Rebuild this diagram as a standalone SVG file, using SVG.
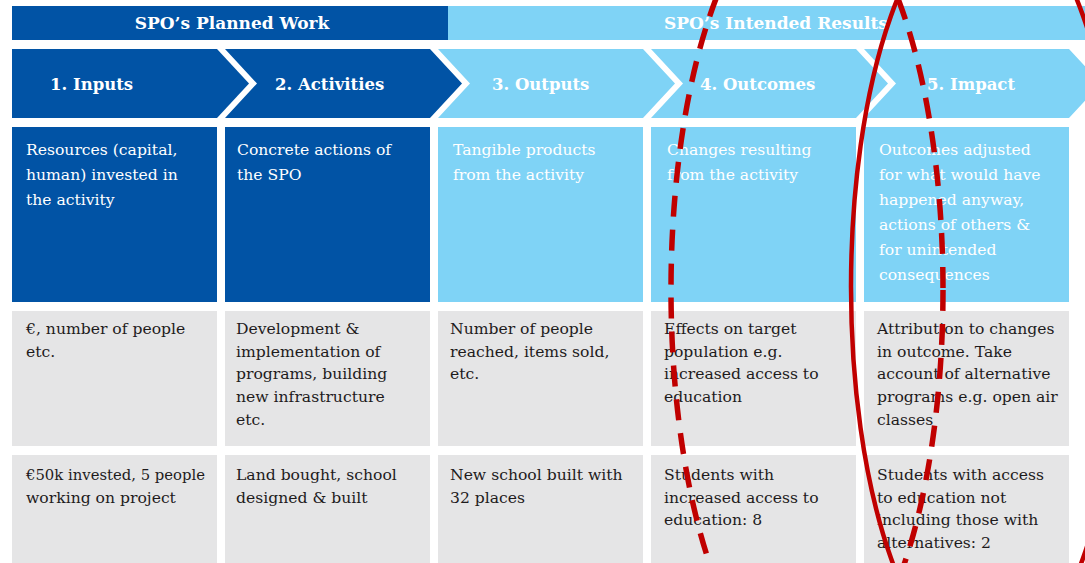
<svg xmlns="http://www.w3.org/2000/svg" width="1085" height="563" viewBox="0 0 1085 563">
<style>
.dark{fill:#0153a5}
.light{fill:#7fd3f6}
.grey{fill:#e5e5e6}
.hd{font-family:"DejaVu Serif",serif;font-weight:bold;font-size:17px;fill:#fff;text-anchor:middle}
.ch{font-family:"DejaVu Serif",serif;font-weight:bold;font-size:16.5px;fill:#fff}
.bt{font-family:"DejaVu Serif",serif;font-size:15.6px;fill:#fff}
.gt{font-family:"DejaVu Serif",serif;font-size:15.6px;fill:#1e1b1c}
.ring{fill:none;stroke:#c00000}
</style>
<rect width="1085" height="563" fill="#fff"/>
<g id="header-planned">
<rect class="dark" x="12" y="6" width="436" height="34"/>
<text class="hd" x="232" y="29">SPO’s Planned Work</text>
</g>
<g id="header-intended">
<rect class="light" x="448" y="6" width="640" height="34"/>
<text class="hd" x="776" y="29">SPO’s Intended Results</text>
</g>
<g id="col-inputs">
<path class="dark" d="M12,49H217L249,83.5L217,118H12Z"/>
<text class="ch" x="50" y="90">1. Inputs</text>
<rect class="dark" x="12" y="127" width="205" height="175"/>
<text class="bt" x="26"><tspan x="26" y="155">Resources (capital,</tspan><tspan x="26" y="180">human) invested in</tspan><tspan x="26" y="205">the activity</tspan></text>
<rect class="grey" x="12" y="311" width="205" height="135"/>
<text class="gt"><tspan x="26" y="334">€, number of people</tspan><tspan x="26" y="357">etc.</tspan></text>
<rect class="grey" x="12" y="455" width="205" height="115"/>
<text class="gt" x="26" y="480" textLength="179" lengthAdjust="spacingAndGlyphs">€50k invested, 5 people</text>
<text class="gt" x="26" y="502.5">working on project</text>
</g>
<g id="col-activities">
<path class="dark" d="M225,49H430L462,83.5L430,118H225L257,83.5Z"/>
<text class="ch" x="275" y="90">2. Activities</text>
<rect class="dark" x="225" y="127" width="205" height="175"/>
<text class="bt"><tspan x="237" y="155">Concrete actions of</tspan><tspan x="237" y="180">the SPO</tspan></text>
<rect class="grey" x="225" y="311" width="205" height="135"/>
<text class="gt"><tspan x="236" y="334">Development &amp;</tspan><tspan x="236" y="356.7">implementation of</tspan><tspan x="236" y="379.4">programs, building</tspan><tspan x="236" y="402">new infrastructure</tspan><tspan x="236" y="424.7">etc.</tspan></text>
<rect class="grey" x="225" y="455" width="205" height="115"/>
<text class="gt"><tspan x="236" y="480">Land bought, school</tspan><tspan x="236" y="502.5">designed &amp; built</tspan></text>
</g>
<g id="col-outputs">
<path class="light" d="M438,49H643L675,83.5L643,118H438L470,83.5Z"/>
<text class="ch" x="492" y="90">3. Outputs</text>
<rect class="light" x="438" y="127" width="205" height="175"/>
<text class="bt"><tspan x="453" y="155">Tangible products</tspan><tspan x="453" y="180">from the activity</tspan></text>
<rect class="grey" x="438" y="311" width="205" height="135"/>
<text class="gt"><tspan x="450" y="334">Number of people</tspan><tspan x="450" y="356.7">reached, items sold,</tspan><tspan x="450" y="379.4">etc.</tspan></text>
<rect class="grey" x="438" y="455" width="205" height="115"/>
<text class="gt"><tspan x="450" y="480">New school built with</tspan><tspan x="450" y="502.5">32 places</tspan></text>
</g>
<g id="col-outcomes">
<path class="light" d="M651,49H856L888,83.5L856,118H651L683,83.5Z"/>
<text class="ch" x="700" y="90">4. Outcomes</text>
<rect class="light" x="651" y="127" width="205" height="175"/>
<text class="bt"><tspan x="667" y="155">Changes resulting</tspan><tspan x="667" y="180">from the activity</tspan></text>
<rect class="grey" x="651" y="311" width="205" height="135"/>
<text class="gt"><tspan x="664" y="334">Effects on target</tspan><tspan x="664" y="356.7">population e.g.</tspan><tspan x="664" y="379.4">increased access to</tspan><tspan x="664" y="402">education</tspan></text>
<rect class="grey" x="651" y="455" width="205" height="115"/>
<text class="gt"><tspan x="664" y="480">Students with</tspan><tspan x="664" y="502.5">increased access to</tspan><tspan x="664" y="525">education: 8</tspan></text>
</g>
<g id="col-impact">
<path class="light" d="M864,49H1069L1101,83.5L1069,118H864L896,83.5Z"/>
<text class="ch" x="927" y="90">5. Impact</text>
<rect class="light" x="864" y="127" width="205" height="175"/>
<text class="bt"><tspan x="879" y="155">Outcomes adjusted</tspan><tspan x="879" y="180">for what would have</tspan><tspan x="879" y="205">happened anyway,</tspan><tspan x="879" y="230">actions of others &amp;</tspan><tspan x="879" y="255">for unintended</tspan><tspan x="879" y="280">consequences</tspan></text>
<rect class="grey" x="864" y="311" width="205" height="135"/>
<text class="gt"><tspan x="877" y="334">Attribution to changes</tspan><tspan x="877" y="356.7">in outcome. Take</tspan><tspan x="877" y="379.4">account of alternative</tspan><tspan x="877" y="402">programs e.g. open air</tspan><tspan x="877" y="424.7">classes</tspan></text>
<rect class="grey" x="864" y="455" width="205" height="115"/>
<text class="gt"><tspan x="877" y="480">Students with access</tspan><tspan x="877" y="502.5">to education not</tspan><tspan x="877" y="525">including those with</tspan><tspan x="877" y="547.7">alternatives: 2</tspan></text>
</g>
<g id="connectors">
<ellipse class="ring" cx="807" cy="290" rx="136" ry="392" stroke-width="5.5" stroke-dasharray="21 13"/>
<ellipse class="ring" cx="987" cy="287" rx="136" ry="383" stroke-width="4.5"/>
</g>
</svg>
